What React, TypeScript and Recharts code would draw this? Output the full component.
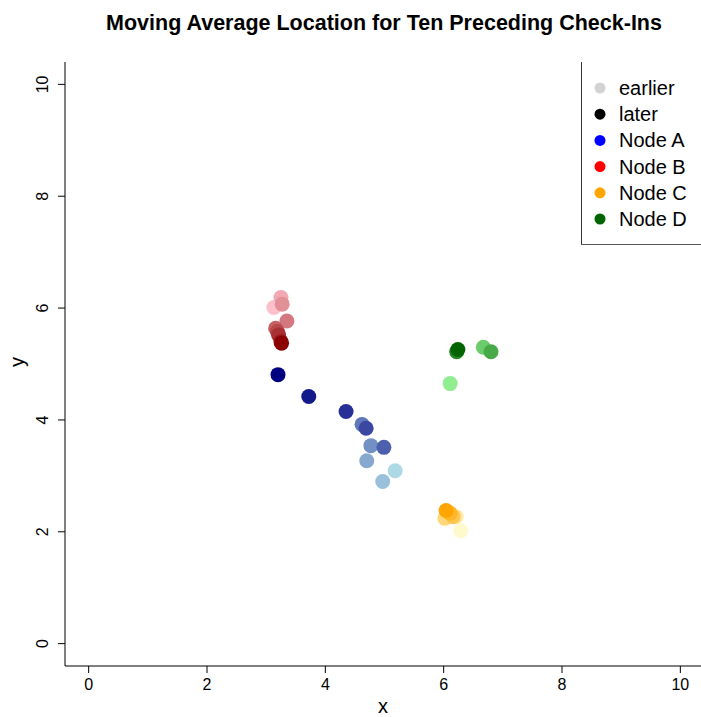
import { ScatterChart, Scatter, XAxis, YAxis, Cell } from "recharts";

// axis ticks
const ticks = [0, 2, 4, 6, 8, 10];

// moving-average positions, earliest -> latest
const nodeAx = [5.18, 4.97, 4.7, 4.77, 4.62, 4.99, 4.69, 4.35, 3.72, 3.2];
const nodeAy = [3.09, 2.9, 3.27, 3.54, 3.92, 3.51, 3.85, 4.15, 4.42, 4.81];

const nodeBx = [3.13, 3.25, 3.27, 3.35, 3.16, 3.19, 3.21, 3.25, 3.26];
const nodeBy = [6.01, 6.19, 6.07, 5.77, 5.64, 5.58, 5.52, 5.4, 5.37];

const nodeCx = [6.29, 6.21, 6.02, 6.16, 6.11, 6.04];
const nodeCy = [2.02, 2.27, 2.24, 2.27, 2.33, 2.38];

const nodeDx = [6.11, 6.67, 6.8, 6.22, 6.24];
const nodeDy = [4.65, 5.3, 5.22, 5.22, 5.26];

const legendLabels = ["earlier", "later", "Node A", "Node B", "Node C", "Node D"];
const legendColors = ["#d3d3d3", "#000000", "#0000ff", "#ff0000", "#ffa500", "#006400"];

const FONT = '"Liberation Sans", Arial, sans-serif';

const hex = (c: string) => [1, 3, 5].map((i) => parseInt(c.slice(i, i + 2), 16));

// light -> dark colour ramp for one node
function ramp(from: string, to: string, n: number) {
  const a = hex(from);
  const b = hex(to);
  return Array.from({ length: n }, (_, i) => {
    const t = n === 1 ? 1 : i / (n - 1);
    const c = a.map((v, k) => Math.round(v + (b[k] - v) * t));
    return `rgb(${c[0]},${c[1]},${c[2]})`;
  });
}

const toPoints = (xs: number[], ys: number[]) => xs.map((x, i) => ({ x, y: ys[i] }));

const series = [
  { name: "Node A", data: toPoints(nodeAx, nodeAy), colors: ramp("#add8e6", "#000080", nodeAx.length) },
  { name: "Node B", data: toPoints(nodeBx, nodeBy), colors: ramp("#ffc0cb", "#8b0000", nodeBx.length) },
  { name: "Node C", data: toPoints(nodeCx, nodeCy), colors: ramp("#fffacd", "#ffa500", nodeCx.length) },
  { name: "Node D", data: toPoints(nodeDx, nodeDy), colors: ramp("#90ee90", "#006400", nodeDx.length) },
];

const Dot = (props: any) => <circle cx={props.cx} cy={props.cy} r={7.5} fill={props.fill} />;

const XTick = (props: any) => (
  <text x={props.x} y={props.y} dy={15} textAnchor="middle" fontSize={16} fontFamily={FONT} fill="#000">
    {props.payload.value}
  </text>
);

const YTick = (props: any) => {
  const x = props.x - 8;
  return (
    <text
      x={x}
      y={props.y}
      textAnchor="middle"
      fontSize={16}
      fontFamily={FONT}
      fill="#000"
      transform={`rotate(-90 ${x} ${props.y})`}
    >
      {props.payload.value}
    </text>
  );
};

export default function App() {
  return (
    <div
      style={{
        position: "absolute",
        left: 0,
        top: 0,
        width: 701,
        height: 717,
        overflow: "hidden",
        background: "#fff",
        fontFamily: FONT,
      }}
    >
      <ScatterChart width={705} height={717} margin={{ top: 62, right: 1, bottom: 0, left: 0 }}>
        <XAxis
          type="number"
          dataKey="x"
          domain={[-0.4, 10.4]}
          ticks={ticks}
          allowDataOverflow
          height={51}
          stroke="#000"
          tickSize={7}
          tick={<XTick />}
        />
        <YAxis
          type="number"
          dataKey="y"
          domain={[-0.4, 10.4]}
          ticks={ticks}
          allowDataOverflow
          width={65}
          stroke="#000"
          tickSize={7}
          tick={<YTick />}
        />
        {series.map((s) => (
          <Scatter key={s.name} name={s.name} data={s.data} shape={<Dot />} isAnimationActive={false}>
            {s.data.map((_, i) => (
              <Cell key={i} fill={s.colors[i]} />
            ))}
          </Scatter>
        ))}
      </ScatterChart>

      <svg width={701} height={717} style={{ position: "absolute", left: 0, top: 0, pointerEvents: "none" }}>
        <text x={384} y={29.5} textAnchor="middle" fontSize={21.5} fontWeight="bold" fontFamily={FONT} fill="#000">
          Moving Average Location for Ten Preceding Check-Ins
        </text>
        <text x={383} y={713} textAnchor="middle" fontSize={20} fontFamily={FONT} fill="#000">
          x
        </text>
        <text
          x={24}
          y={362}
          textAnchor="middle"
          fontSize={20}
          fontFamily={FONT}
          fill="#000"
          transform="rotate(-90 24 362)"
        >
          y
        </text>
      </svg>

      <svg
        width={130}
        height={183}
        style={{ position: "absolute", left: 581, top: 62, background: "#fff" }}
      >
        <line x1={0.5} y1={0} x2={0.5} y2={182.5} stroke="#333" />
        <line x1={0} y1={182.5} x2={130} y2={182.5} stroke="#555" />
        {legendLabels.map((label, i) => (
          <g key={label}>
            <circle cx={19} cy={26 + i * 26.2} r={5.5} fill={legendColors[i]} />
            <text x={38} y={26 + i * 26.2 + 7} fontSize={20} fontFamily={FONT} fill="#000">
              {label}
            </text>
          </g>
        ))}
      </svg>
    </div>
  );
}
